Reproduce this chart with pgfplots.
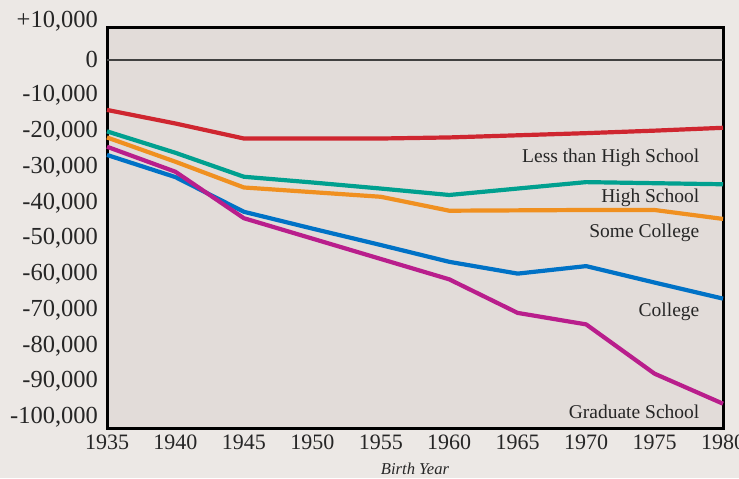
\documentclass[border=0pt]{standalone}
\usepackage{pgfplots}
\pgfplotsset{compat=1.18}
\usepackage{fontspec}
\setmainfont{Liberation Serif}
\usetikzlibrary{backgrounds}
\definecolor{outerbg}{RGB}{236,232,229}
\definecolor{innerbg}{RGB}{226,220,217}
\definecolor{cred}{RGB}{207,38,48}
\definecolor{cteal}{RGB}{0,160,143}
\definecolor{corange}{RGB}{240,144,32}
\definecolor{cblue}{RGB}{0,114,198}
\definecolor{cmag}{RGB}{185,30,140}
\begin{document}
\begin{tikzpicture}
\begin{axis}[
  scale only axis, width=308pt, height=200.5pt,
  xmin=1935, xmax=1980, ymin=-103000, ymax=9200,
  clip=false,
  scaled ticks=false,
  axis line style={line width=1.5pt, black},
  axis background/.style={fill=innerbg},
  xtick={1935,1940,1945,1950,1955,1960,1965,1970,1975,1980},
  xticklabels={1935,1940,1945,1950,1955,1960,1965,1970,1975,1980},
  ytick={-100000,-90000,-80000,-70000,-60000,-50000,-40000,-30000,-20000,-10000,0},
  yticklabels={{-100,000},{-90,000},{-80,000},{-70,000},{-60,000},{-50,000},{-40,000},{-30,000},{-20,000},{-10,000},{0}},
  major tick length=0pt,
  xticklabel style={font=\fontsize{11}{12}\selectfont, text=black!85},
  yticklabel style={font=\fontsize{12.25}{13}\selectfont, text=black!85, anchor=east, xshift=-1pt},
  xlabel={Birth Year},
  xlabel style={font=\fontsize{8.3}{9}\selectfont\itshape, text=black!85, yshift=0.5pt},
  every axis plot/.append style={line width=2.1pt, line join=round, mark=none},
]
\coordinate (bl) at (rel axis cs:0,0);
\coordinate (tr) at (rel axis cs:1,1);
\node[anchor=east, font=\fontsize{12.25}{13}\selectfont, text=black!85, xshift=-1pt] at (axis cs:1935,10800) {+10,000};
\addplot[black!75, line width=0.7pt] coordinates {(1935,0) (1980,0)};
\addplot[cred] coordinates {(1935,-14000)(1940,-17800)(1945,-22000)(1950,-22000)(1955,-22000)(1960,-21700)(1965,-21100)(1970,-20500)(1975,-19800)(1980,-19000)};
\addplot[cteal] coordinates {(1935,-20000)(1940,-26000)(1945,-32700)(1950,-34300)(1955,-36000)(1960,-37800)(1965,-36000)(1970,-34200)(1975,-34500)(1980,-34800)};
\addplot[corange] coordinates {(1935,-21700)(1940,-28500)(1945,-35700)(1950,-37000)(1955,-38300)(1960,-42200)(1965,-42100)(1970,-42000)(1975,-42000)(1980,-44500)};
\addplot[cblue] coordinates {(1935,-26600)(1940,-32800)(1945,-42500)(1950,-47200)(1955,-51800)(1960,-56500)(1965,-59800)(1970,-57700)(1975,-62300)(1980,-66800)};
\addplot[cmag] coordinates {(1935,-24300)(1940,-31300)(1945,-44300)(1950,-50000)(1955,-55700)(1960,-61400)(1965,-70800)(1970,-74000)(1975,-87800)(1980,-96200)};
\begin{scope}[every node/.style={anchor=base east, font=\fontsize{9.75}{11}\selectfont, text=black!85, inner sep=0pt}]
\node at (axis cs:1978.3,-28650) {Less than High School};
\node at (axis cs:1978.3,-39970) {High School};
\node at (axis cs:1978.3,-49580) {Some College};
\node at (axis cs:1978.3,-71900) {College};
\node at (axis cs:1978.3,-100360) {Graduate School};
\end{scope}
\end{axis}
\pgfresetboundingbox
\begin{pgfonlayer}{background}
\fill[outerbg] ([shift={(-53.5pt,-25pt)}]bl) rectangle ([shift={(8pt,13.5pt)}]tr);
\end{pgfonlayer}
\path[use as bounding box] ([shift={(-53.5pt,-25pt)}]bl) rectangle ([shift={(8pt,13.5pt)}]tr);
\end{tikzpicture}
\end{document}
